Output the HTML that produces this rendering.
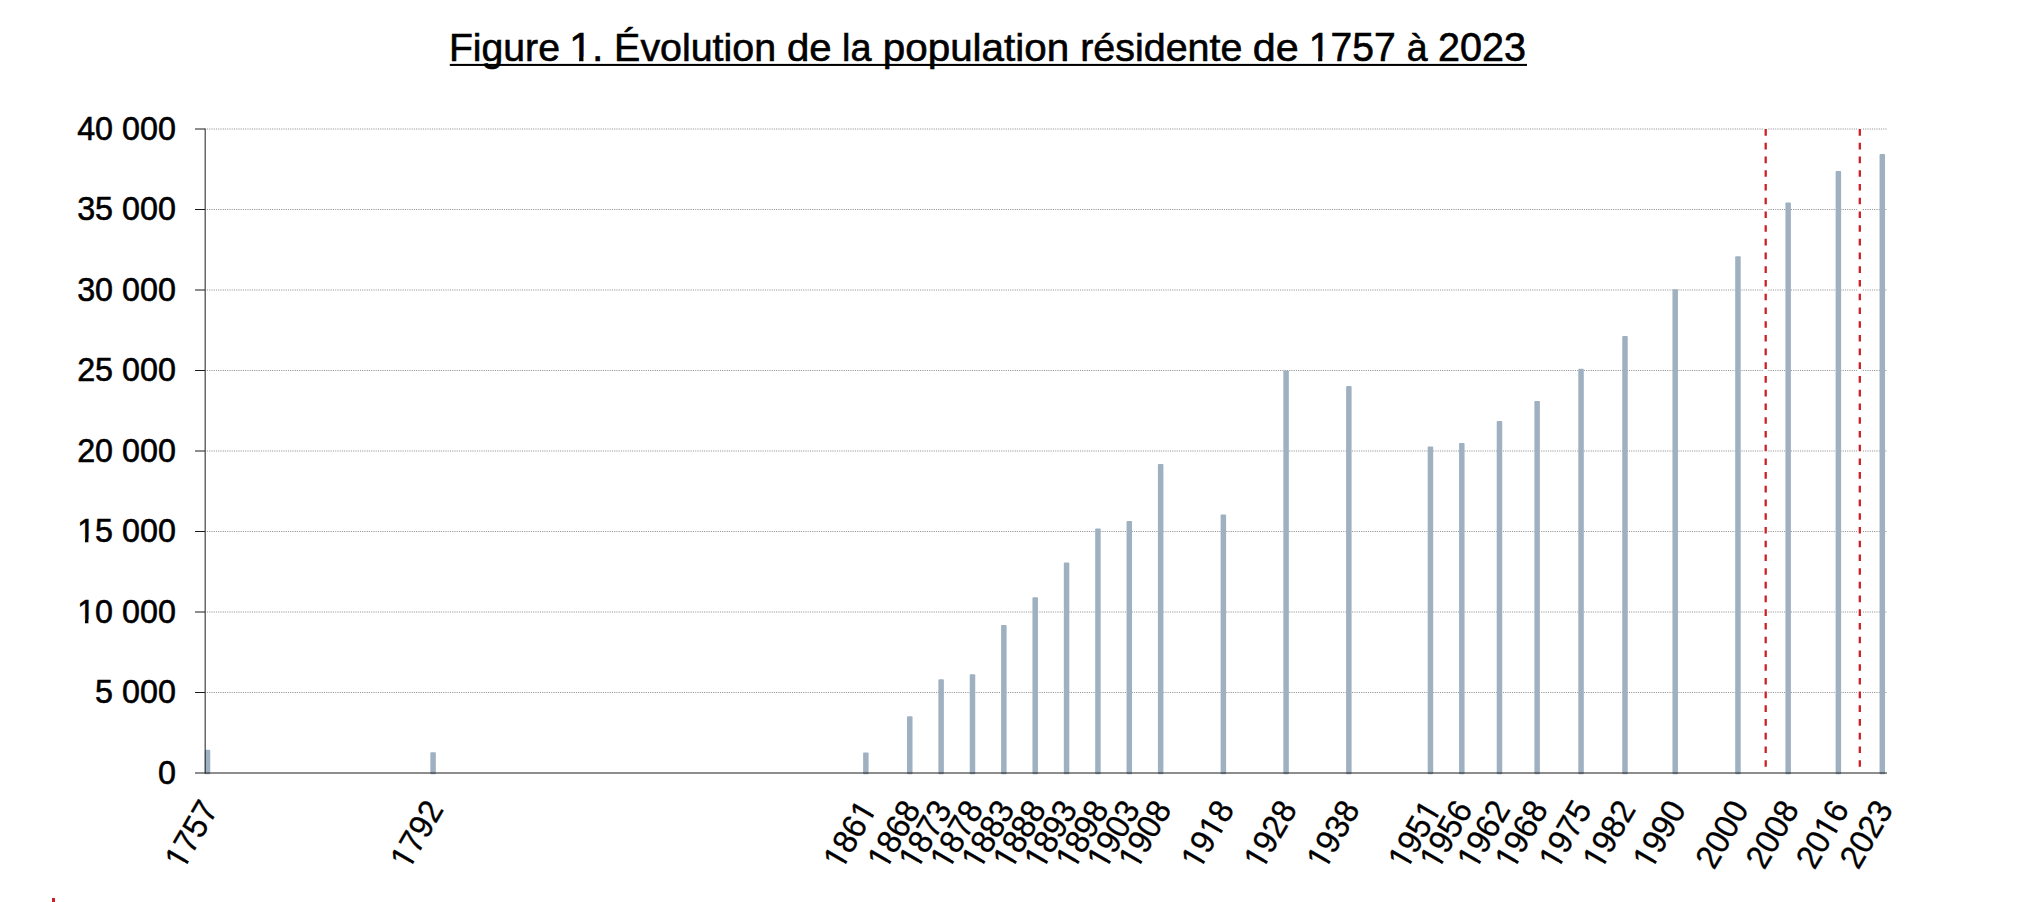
<!DOCTYPE html>
<html lang="fr">
<head>
<meta charset="utf-8">
<title>Figure 1. Évolution de la population résidente de 1757 à 2023</title>
<style>
html,body{margin:0;padding:0;background:#fff;}
body{width:2024px;height:902px;overflow:hidden;font-family:'Liberation Sans',sans-serif;}
svg{display:block;}
text{font-family:'Liberation Sans',sans-serif;fill:#000;}
</style>
</head>
<body>
<svg width="2024" height="902" viewBox="0 0 2024 902" role="img" aria-label="Figure 1. Évolution de la population résidente de 1757 à 2023">
<rect x="0" y="0" width="2024" height="902" fill="#ffffff"/>
<defs>
<clipPath id="k0"><path clip-rule="evenodd" d="M-400-80H400V40H-400ZM1.46 -4.10H9.46V2.00H1.46ZM13.49 -4.10H21.18V2.00H13.49Z"/></clipPath>
<clipPath id="k1"><path clip-rule="evenodd" d="M-400-80H400V40H-400ZM-101.41 -3.70H-94.34V2.00H-101.41ZM-90.78 -3.70H-83.97V2.00H-90.78Z"/></clipPath>
<clipPath id="k2"><path clip-rule="evenodd" d="M-400-80H400V40H-400ZM-73.32 -3.55H-66.25V2.00H-73.32ZM-62.99 -3.55H-56.18V2.00H-62.99Z"/></clipPath>
<clipPath id="k3"><path clip-rule="evenodd" d="M-400-80H400V40H-400ZM-73.32 -3.55H-66.25V2.00H-73.32ZM-62.99 -3.55H-56.18V2.00H-62.99ZM-17.43 -3.55H-10.36V2.00H-17.43ZM-7.10 -3.55H-0.29V2.00H-7.10Z"/></clipPath>
<clipPath id="k4"><path clip-rule="evenodd" d="M-400-80H400V40H-400ZM-73.32 -3.55H-66.25V2.00H-73.32ZM-62.99 -3.55H-56.18V2.00H-62.99ZM-36.06 -3.55H-28.99V2.00H-36.06ZM-25.73 -3.55H-18.92V2.00H-25.73Z"/></clipPath>
<clipPath id="k5"><path clip-rule="evenodd" d="M-400-80H400V40H-400ZM-36.06 -3.55H-28.99V2.00H-36.06ZM-25.73 -3.55H-18.92V2.00H-25.73Z"/></clipPath>
</defs>
<!-- title -->
<g font-size="38.8" stroke="#000" stroke-width="0.6">
<text transform="translate(448.92 61) scale(1.0099 1.015)">Figure</text>
<text transform="translate(569.17 61) scale(1.0575 1.035)" clip-path="url(#k0)">1.</text>
<text transform="translate(614.11 61) scale(1.0152 1.015)">Évolution</text>
<text transform="translate(786.97 61) scale(1.0351 1.015)">de</text>
<text transform="translate(842.06 61) scale(0.9752 1.015)">la</text>
<text transform="translate(882.86 61) scale(1.0403 1.015)">population</text>
<text transform="translate(1080.21 61) scale(1.016 1.015)">résidente</text>
<text transform="translate(1252.87 61) scale(1.0642 1.015)">de</text>
<text transform="translate(1308.67 61) scale(1.008 1.035)" clip-path="url(#k0)">1757</text>
<text transform="translate(1406.63 61) scale(0.9667 1.015)">à</text>
<text transform="translate(1438.02 61) scale(1.0186 1.035)">2023</text>
</g>
<rect x="449.8" y="63.9" width="1077.2" height="2.05" fill="#000"/>
<!-- gridlines -->
<g stroke="#949494" stroke-width="1" stroke-dasharray="1.125 1.125" fill="none">
<line x1="206.9" y1="692.50" x2="1887" y2="692.50"/>
<line x1="206.9" y1="612.00" x2="1887" y2="612.00"/>
<line x1="206.9" y1="531.50" x2="1887" y2="531.50"/>
<line x1="206.9" y1="451.00" x2="1887" y2="451.00"/>
<line x1="206.9" y1="370.50" x2="1887" y2="370.50"/>
<line x1="206.9" y1="290.00" x2="1887" y2="290.00"/>
<line x1="206.9" y1="209.50" x2="1887" y2="209.50"/>
<line x1="206.9" y1="129.00" x2="1887" y2="129.00"/>
</g>
<!-- bars -->
<g fill="#9fb1c1">
<rect x="204.75" y="749.85" width="5.5" height="24.40" rx="0.9"/>
<rect x="430.34" y="752.20" width="5.5" height="22.05" rx="0.9"/>
<rect x="863.11" y="752.49" width="5.5" height="21.76" rx="0.9"/>
<rect x="907.02" y="716.30" width="5.5" height="57.95" rx="0.9"/>
<rect x="938.38" y="679.32" width="5.5" height="94.93" rx="0.9"/>
<rect x="969.74" y="674.36" width="5.5" height="99.89" rx="0.9"/>
<rect x="1001.10" y="625.11" width="5.5" height="149.14" rx="0.9"/>
<rect x="1032.46" y="597.19" width="5.5" height="177.06" rx="0.9"/>
<rect x="1063.82" y="562.50" width="5.5" height="211.75" rx="0.9"/>
<rect x="1095.18" y="528.61" width="5.5" height="245.64" rx="0.9"/>
<rect x="1126.54" y="521.11" width="5.5" height="253.14" rx="0.9"/>
<rect x="1157.90" y="463.90" width="5.5" height="310.35" rx="0.9"/>
<rect x="1220.62" y="514.60" width="5.5" height="259.65" rx="0.9"/>
<rect x="1283.34" y="370.43" width="5.5" height="403.82" rx="0.9"/>
<rect x="1346.10" y="386.06" width="5.5" height="388.19" rx="0.9"/>
<rect x="1427.69" y="446.50" width="5.5" height="327.75" rx="0.9"/>
<rect x="1459.07" y="442.96" width="5.5" height="331.29" rx="0.9"/>
<rect x="1496.72" y="421.04" width="5.5" height="353.21" rx="0.9"/>
<rect x="1534.38" y="400.89" width="5.5" height="373.36" rx="0.9"/>
<rect x="1578.31" y="368.78" width="5.5" height="405.47" rx="0.9"/>
<rect x="1622.24" y="336.04" width="5.5" height="438.21" rx="0.9"/>
<rect x="1672.45" y="289.20" width="5.5" height="485.05" rx="0.9"/>
<rect x="1735.20" y="256.23" width="5.5" height="518.02" rx="0.9"/>
<rect x="1785.41" y="202.58" width="5.5" height="571.67" rx="0.9"/>
<rect x="1835.62" y="171.09" width="5.5" height="603.16" rx="0.9"/>
<rect x="1879.55" y="154.04" width="5.5" height="620.21" rx="0.9"/>
</g>
<!-- reference lines -->
<g stroke="#ffffff" stroke-width="4.6" fill="none">
<line x1="1765.4" y1="128.2" x2="1765.4" y2="768"/>
<line x1="1859.5" y1="128.2" x2="1859.5" y2="768"/>
</g>
<g stroke="#cc1f26" stroke-width="2.3" stroke-dasharray="6.6 7.12" fill="none">
<line x1="1765.7" y1="129.1" x2="1765.7" y2="767"/>
<line x1="1859.8" y1="129.1" x2="1859.8" y2="767"/>
</g>
<!-- axes -->
<g stroke="#1c1c1c" stroke-width="1" fill="none">
<line x1="205.17" y1="128.50" x2="205.17" y2="773.50"/>
<line x1="195" y1="773.00" x2="1887" y2="773.00"/>
<line x1="195" y1="692.50" x2="205.2" y2="692.50"/>
<line x1="195" y1="612.00" x2="205.2" y2="612.00"/>
<line x1="195" y1="531.50" x2="205.2" y2="531.50"/>
<line x1="195" y1="451.00" x2="205.2" y2="451.00"/>
<line x1="195" y1="370.50" x2="205.2" y2="370.50"/>
<line x1="195" y1="290.00" x2="205.2" y2="290.00"/>
<line x1="195" y1="209.50" x2="205.2" y2="209.50"/>
<line x1="195" y1="129.00" x2="205.2" y2="129.00"/>
</g>
<!-- y labels -->
<g font-size="33.5" text-anchor="end" stroke="#000" stroke-width="0.6">
<text transform="translate(175.9 784.30) scale(0.964 1)">0</text>
<text transform="translate(175.9 703.30) scale(0.964 1)">5 000</text>
<text transform="translate(175.9 623.30) scale(0.964 1)" clip-path="url(#k1)">10 000</text>
<text transform="translate(175.9 542.30) scale(0.964 1)" clip-path="url(#k1)">15 000</text>
<text transform="translate(175.9 462.30) scale(0.964 1)">20 000</text>
<text transform="translate(175.9 381.30) scale(0.964 1)">25 000</text>
<text transform="translate(175.9 301.30) scale(0.964 1)">30 000</text>
<text transform="translate(175.9 220.30) scale(0.964 1)">35 000</text>
<text transform="translate(175.9 140.30) scale(0.964 1)">40 000</text>
</g>
<!-- x labels -->
<g font-size="33.5" text-anchor="end" stroke="#000" stroke-width="0.3">
<text transform="translate(218.80 809.1) rotate(-60) scale(0.955 1)" clip-path="url(#k2)">1757</text>
<text transform="translate(444.45 809.1) rotate(-60) scale(0.955 1)" clip-path="url(#k2)">1792</text>
<text transform="translate(877.40 809.1) rotate(-60) scale(0.955 1)" clip-path="url(#k3)">1861</text>
<text transform="translate(921.33 809.1) rotate(-60) scale(0.955 1)" clip-path="url(#k2)">1868</text>
<text transform="translate(952.70 809.1) rotate(-60) scale(0.955 1)" clip-path="url(#k2)">1873</text>
<text transform="translate(984.07 809.1) rotate(-60) scale(0.955 1)" clip-path="url(#k2)">1878</text>
<text transform="translate(1015.45 809.1) rotate(-60) scale(0.955 1)" clip-path="url(#k2)">1883</text>
<text transform="translate(1046.82 809.1) rotate(-60) scale(0.955 1)" clip-path="url(#k2)">1888</text>
<text transform="translate(1078.19 809.1) rotate(-60) scale(0.955 1)" clip-path="url(#k2)">1893</text>
<text transform="translate(1109.57 809.1) rotate(-60) scale(0.955 1)" clip-path="url(#k2)">1898</text>
<text transform="translate(1140.94 809.1) rotate(-60) scale(0.955 1)" clip-path="url(#k2)">1903</text>
<text transform="translate(1172.32 809.1) rotate(-60) scale(0.955 1)" clip-path="url(#k2)">1908</text>
<text transform="translate(1235.06 809.1) rotate(-60) scale(0.955 1)" clip-path="url(#k4)">1918</text>
<text transform="translate(1297.81 809.1) rotate(-60) scale(0.955 1)" clip-path="url(#k2)">1928</text>
<text transform="translate(1360.56 809.1) rotate(-60) scale(0.955 1)" clip-path="url(#k2)">1938</text>
<text transform="translate(1442.13 809.1) rotate(-60) scale(0.955 1)" clip-path="url(#k3)">1951</text>
<text transform="translate(1473.50 809.1) rotate(-60) scale(0.955 1)" clip-path="url(#k2)">1956</text>
<text transform="translate(1511.15 809.1) rotate(-60) scale(0.955 1)" clip-path="url(#k2)">1962</text>
<text transform="translate(1548.80 809.1) rotate(-60) scale(0.955 1)" clip-path="url(#k2)">1968</text>
<text transform="translate(1592.72 809.1) rotate(-60) scale(0.955 1)" clip-path="url(#k2)">1975</text>
<text transform="translate(1636.64 809.1) rotate(-60) scale(0.955 1)" clip-path="url(#k2)">1982</text>
<text transform="translate(1686.84 809.1) rotate(-60) scale(0.955 1)" clip-path="url(#k2)">1990</text>
<text transform="translate(1749.59 809.1) rotate(-60) scale(0.955 1)">2000</text>
<text transform="translate(1799.79 809.1) rotate(-60) scale(0.955 1)">2008</text>
<text transform="translate(1849.98 809.1) rotate(-60) scale(0.955 1)" clip-path="url(#k5)">2016</text>
<text transform="translate(1893.91 809.1) rotate(-60) scale(0.955 1)">2023</text>
</g>
<rect x="52" y="898" width="3" height="4" fill="#cc1f26"/>
</svg>
</body>
</html>
